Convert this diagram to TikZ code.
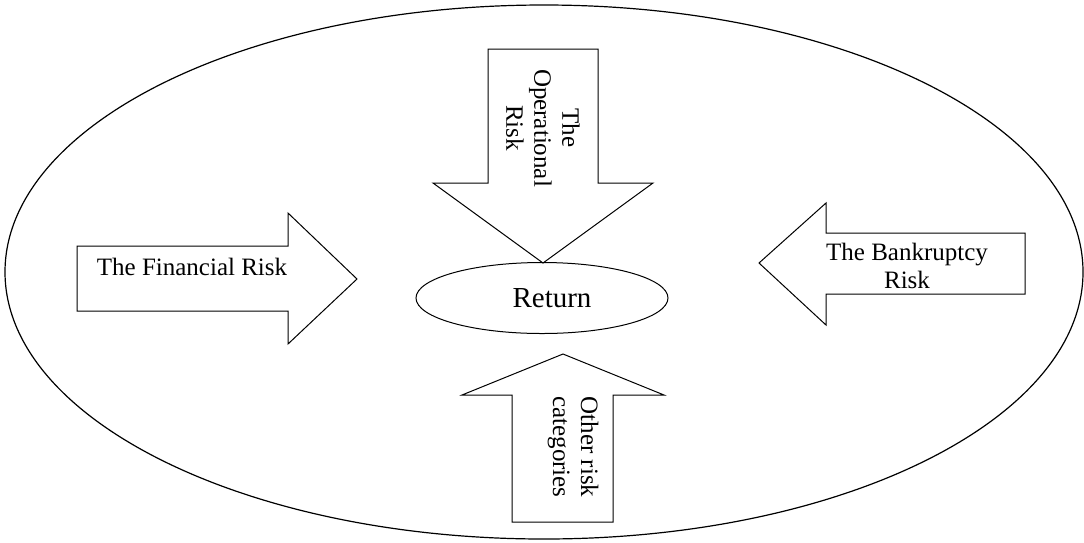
\documentclass[tikz,border=0pt]{standalone}
\usepackage{fontspec}
\setmainfont{Liberation Serif}
\usepackage{tikz}
\usetikzlibrary{shapes.geometric}

\begin{document}
\begin{tikzpicture}[x=1pt,y=-1pt,
        riskarrow/.style={draw,line width=1pt,line join=miter},
        risklabel/.style={font=\fontsize{25}{28}\selectfont,align=center,inner sep=0pt},
        every node/.style={inner sep=0pt}]

    \useasboundingbox (0,0) rectangle (1084,542);

    % outer ellipse
    \draw[line width=1.2pt] (544,272) ellipse [x radius=539,y radius=267];

    % arrows
    \draw[riskarrow] (488,49) -- (598,49) -- (598,183) -- (653,183) -- (543,263)
        -- (433,183) -- (488,183) -- cycle;
    \draw[riskarrow] (77,246) -- (288,246) -- (288,213) -- (357,279) -- (288,344)
        -- (288,311) -- (77,311) -- cycle;
    \draw[riskarrow] (759,263) -- (826,203) -- (826,233) -- (1025,233) -- (1025,294)
        -- (826,294) -- (826,325) -- cycle;
    \draw[riskarrow] (563,354) -- (664,395) -- (613,395) -- (613,522) -- (512,522)
        -- (512,395) -- (462,395) -- cycle;

    % labels
    \node[risklabel,rotate=-90] (operational) at (543,128) {The\\Operational\\Risk};
    \node[risklabel] (financial) at (192,267) {The Financial Risk};
    \node[risklabel] (bankruptcy) at (907,266) {The Bankruptcy\\Risk};
    \node[risklabel,rotate=-90] (other) at (573,447) {Other risk\\categories};

    \node[draw,ellipse,line width=1pt,minimum width=252pt,minimum height=71pt] (return) at (542,298) {};
    \node[font=\fontsize{29}{32}\selectfont] (returntext) at ([xshift=10pt]return.center) {Return};
\end{tikzpicture}
\end{document}
